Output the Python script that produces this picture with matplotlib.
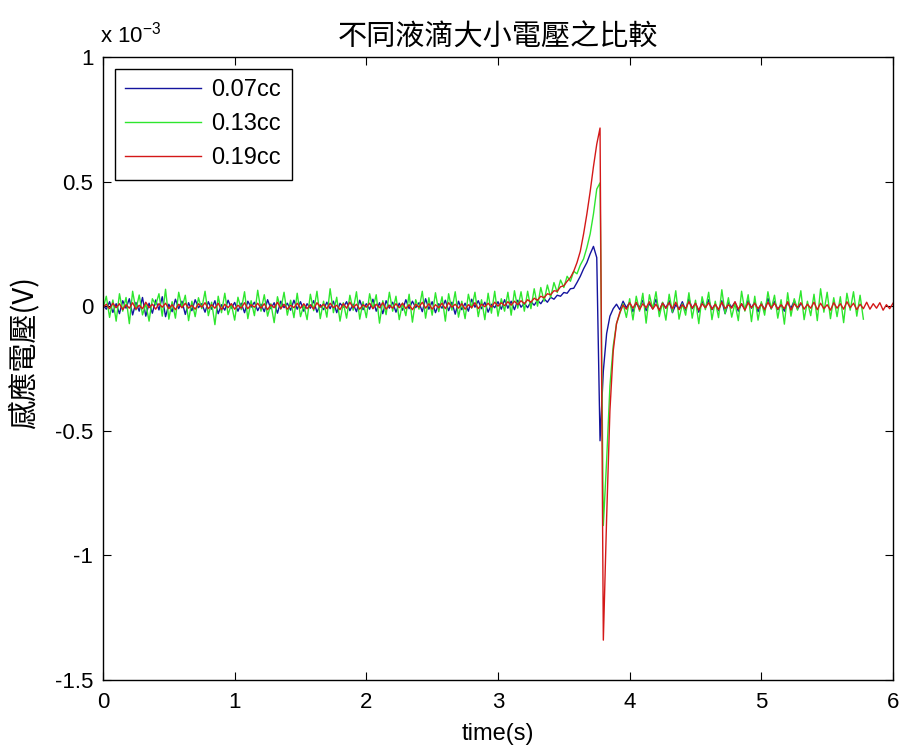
import numpy as np
import matplotlib
matplotlib.use("Agg")
import matplotlib.pyplot as plt

plt.rcParams['font.family'] = ['Liberation Sans', 'Noto Sans CJK TC', 'DejaVu Sans']
plt.rcParams['mathtext.fontset'] = 'custom'
plt.rcParams['mathtext.rm'] = 'Liberation Sans'

#%% datos (en uV, muestreo cada 0.025 s)
dt = 0.025

# 0.07cc
v_007_base = [5, -12, 18, -25, 10, -30, 22, -8, 30, -35, 15, -20, 35, -40, 12, -28, 25, -15, 38, -42,
              8, -22, 28, -10, 20, -33, 14, -18, 26, -6, 10, -24, 18, -12, 22, -30, 6, -16, 24, -8,
              15, -20, 12, -26, 20, -4, 16, -18, 8, -22, 26, -10, 14, -28, 20, -6, 12, -16, 24, -12,
              18, -20, 10, -8, 22, -24, 6, -14, 16, -10, 20, -26, 12, -4, 18, -18, 8, -22, 24, -14,
              10, -12, 28, -20, 14, -30, 22, -8, 16, -24, 12, -16, 26, -10, 20, -6, 14, -22, 30, -12,
              18, -26, 10, -8, 24, -18, 16, -32, 20, -14, 12, -20, 28, -4, 22, -10, 16, -24, 8, -6,
              18, -12, 26, -8, 20, -14, 24, -4]
v_007_pico = [12, -6, 18, 4, 24, 10, 30, 16, 36, 28, 44, 40, 55, 52, 70, 72, 95, 120, 150, 175,
              210, 240, 195, -540, -260, -110, -40, -10]
v_007_fin = [8, -14, 20, -6, 16, -22, 12, -4, 24, -18, 10, -10, 28, -20, 14, -8, 22, -26, 6, -12,
             18, -16, 30, -10, 12, -24, 20, -6, 26, -14, 8, -18, 22, -30, 14, -4, 16, -20, 10, -12,
             24, -8, 18, -22, 12, -16, 32, -10, 20, -14, 6, -20, 16, -8, 22, -12, 10]

# 0.13cc
v_013_base = [-10, 40, -45, 25, -60, 50, -20, 35, -70, 60, -15, 45, -35, 10, -60, 30, 5, 50, -40, 68,
              -52, 18, -48, 56, -6, 44, -58, 20, -42, 34, -10, 60, -38, 16, -74, 40, -26, 52, -34, 8,
              -56, 36, -14, 58, -50, 22, -38, 64, -20, 46, -40, 10, -66, 38, -12, 56, -36, 24, -46, 52,
              -42, 4, -54, 48, -18, 60, -50, 20, -44, 70, -26, 36, -60, 14, -48, 44, -16, 58, -52, 18,
              -46, 50, -10, 46, -68, 22, -34, 56, -20, 40, -54, 12, -38, 48, -64, 26, -12, 60, -48, 34,
              -36, 54, -22, 38, -60, 50, -16, 58, -44, 20, -50, 48, -8, 56, -42, 26, -54, 52, -28, 60,
              -40, 30, -20, 56, -36, 62, -8, 58]
v_013_pico = [-20, 60, -10, 70, 0, 75, 20, 85, 35, 95, 55, 105, 75, 120, 100, 140, 130, 165, 190, 235,
              290, 370, 470, 495, -880, -620, -320, -160, -70, -30, 10]
v_013_fin = [-45, 30, -55, 40, -20, 52, -68, 46, -10, 58, -42, 16, -56, 48, -24, 62, -52, 10, -36, 54,
             -48, 24, -70, 38, -14, 56, -54, 20, -46, 66, -30, 34, -44, 12, -58, 60, -20, 46, -62, 40,
             -56, 18, -36, 58, -12, 44, -48, 26, -72, 54, -40, 30, -16, 62, -54, 20, -38, 48, -58, 70,
             -24, 56, -50, 34, -42, 38, -66, 52, -16, 58, -40, 44, -52]

# 0.19cc
v_019_base = [-5, 8, -10, 12, -6, 10, -14, 6, -8, 14, -12, 4, -10, 16, -6, 8, -12, 10, -4, 12,
              -10, 6, -14, 8, -6, 12, -8, 4, -12, 10, -4, 14, -10, 6, -8, 12, -14, 8, -6, 10,
              -12, 4, -8, 14, -10, 6, -4, 12, -8, 10, -14, 6, -6, 16, -10, 8, -12, 4, -6, 12,
              -8, 10, -10, 6, -12, 14, -4, 8, -10, 12, -6, 4, -14, 10, -8, 16, -6, 8, -12, 6,
              -4, 12, -10, 8, -6, 14, -12, 4, -8, 10, -6, 12, -10, 6, -14, 8, -4, 16, -8, 10,
              -12, 6, -6, 12, -10, 14, -4, 8, -8, 10, -12, 6, -6, 14, -10, 8, -2, 12, -4, 16,
              0, 14, 2, 18, 4, 20, 6, 22]
v_019_pico = [10, 26, 16, 32, 24, 40, 34, 50, 46, 62, 60, 78, 82, 100, 115, 140, 175, 220, 290, 370,
              460, 560, 650, 715, -1340, -850, -420, -180, -70, -25, 5]
v_019_fin = [-12, 14, -8, 16, -14, 10, -6, 18, -12, 8, -16, 12, -8, 14, -10, 16, -14, 6, -10, 18,
             -8, 12, -16, 10, -6, 14, -12, 8, -14, 16, -10, 6, -8, 18, -12, 10, -16, 14, -6, 12,
             -10, 8, -14, 16, -8, 12, -12, 6, -10, 18, -16, 10, -6, 14, -12, 8, -8, 16, -14, 12,
             -10, 6, -16, 14, -8, 10, -12, 18, -6, 12, -14, 8, -10, 16, -12, 10, -8, 14, -16, 6,
             -10, 12]

series = [
    ("0.07cc", v_007_base + v_007_pico + v_007_fin, "#14149e"),
    ("0.13cc", v_013_base + v_013_pico + v_013_fin, "#2ee62e"),
    ("0.19cc", v_019_base + v_019_pico + v_019_fin, "#d41818"),
]

#%% grafico
fig = plt.figure(figsize=(9.03, 7.49), dpi=100)
ax = fig.add_axes([103/903, 69/749, 790/903, 623/749])

for nombre, valores, color in series:
    v = np.array(valores) / 1000.0  # en unidades de 1e-3 V
    t = np.arange(len(v)) * dt
    ax.plot(t, v, color=color, lw=1.0, label=nombre)

ax.set_xlim(0, 6)
ax.set_ylim(-1.5, 1)
ax.set_xticks([0, 1, 2, 3, 4, 5, 6])
ax.set_xticklabels(['0', '1', '2', '3', '4', '5', '6'])
ax.set_yticks([-1.5, -1, -0.5, 0, 0.5, 1])
ax.set_yticklabels(['-1.5', '-1', '-0.5', '0', '0.5', '1'])
ax.tick_params(direction='in', length=6, width=0.8, top=True, right=True,
               labelsize=16, pad=7)
ax.tick_params(axis='x', pad=9)
for s in ax.spines.values():
    s.set_linewidth(1.0)

ax.text(-0.004, 1.0225, r'x 10$^{-3}$', transform=ax.transAxes, ha='left', va='baseline', fontsize=16)
ax.set_title('不同液滴大小電壓之比較', fontsize=21, pad=8, fontweight='light',
             family=['Noto Sans CJK TC', 'DejaVu Sans'])
ax.set_xlabel('time(s)', fontsize=17, labelpad=7)
ax.set_ylabel('感應電壓(V)', fontsize=21, fontweight='light',
              family=['Noto Sans CJK TC', 'DejaVu Sans'])
ax.yaxis.set_label_coords(-0.080, 0.526)

leg = ax.legend(loc='upper left', fontsize=17, fancybox=False, framealpha=1,
                edgecolor='black', handlelength=3.2, handletextpad=0.45,
                borderpad=0.45, labelspacing=0.5, borderaxespad=0.5)
leg.get_frame().set_linewidth(1.0)

fig.savefig('out.png', dpi=100)
